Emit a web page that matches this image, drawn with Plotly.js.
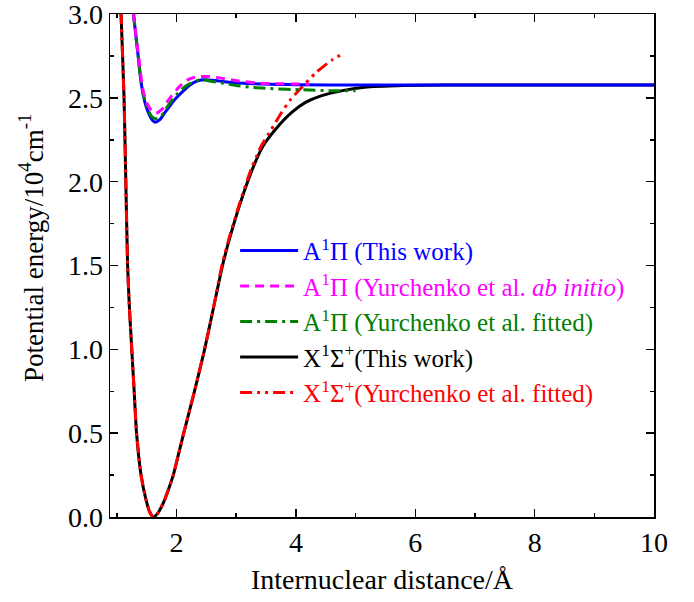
<!DOCTYPE html>
<html>
<head>
<meta charset="utf-8">
<script src="https://cdn.plot.ly/plotly-3.0.1.min.js"></script>
<style>html,body{margin:0;padding:0;background:#fff;}#chart{width:694px;height:602px;}</style>
</head>
<body>
<div id="chart"></div>
<script>
// ---- Data (x in Å, y in 10^4 cm^-1) ----
const aThisX = [1.20, 1.28, 1.36, 1.40, 1.44, 1.48, 1.52, 1.58, 1.64, 1.72, 1.80, 1.89, 1.97, 2.11, 2.22, 2.33, 2.45, 2.60, 2.80, 3.00, 3.28, 3.56, 4.06, 5.00, 6.00, 8.00, 10.0];
const aThisY = [3.45, 3.00, 2.74, 2.61, 2.52, 2.46, 2.42, 2.375, 2.355, 2.37, 2.41, 2.453, 2.49, 2.54, 2.575, 2.598, 2.608, 2.605, 2.597, 2.590, 2.585, 2.582, 2.578, 2.577, 2.577, 2.577, 2.577];

const aAbX = [1.20, 1.28, 1.36, 1.43, 1.50, 1.58, 1.66, 1.75, 1.89, 2.06, 2.20, 2.35, 2.53, 2.75, 3.00, 3.39, 3.70, 4.12, 4.23];
const aAbY = [3.45, 3.00, 2.76, 2.56, 2.47, 2.425, 2.41, 2.43, 2.50, 2.572, 2.61, 2.626, 2.628, 2.618, 2.603, 2.588, 2.585, 2.582, 2.581];

const aFitX = [1.20, 1.28, 1.36, 1.40, 1.44, 1.48, 1.52, 1.58, 1.65, 1.74, 1.85, 2.00, 2.15, 2.39, 2.60, 2.84, 3.00, 3.28, 3.56, 4.12, 4.57, 5.00];
const aFitY = [3.45, 3.00, 2.74, 2.61, 2.53, 2.47, 2.43, 2.39, 2.375, 2.39, 2.45, 2.52, 2.57, 2.608, 2.598, 2.584, 2.574, 2.562, 2.556, 2.548, 2.543, 2.543];

const xThisX = [1.00, 1.07, 1.12, 1.15, 1.18, 1.21, 1.25, 1.29, 1.33, 1.405, 1.49, 1.55, 1.61, 1.68, 1.78, 1.86, 1.945, 2.03, 2.12, 2.30, 2.47, 2.62, 2.77, 2.90, 3.07, 3.27, 3.45, 3.66, 3.93, 4.16, 4.42, 4.80, 5.15, 5.80, 6.50, 8.00, 10.0];
const xThisY = [3.60, 3.00, 2.50, 2.00, 1.50, 1.25, 1.00, 0.75, 0.50, 0.25, 0.10, 0.03, 0.00, 0.02, 0.085, 0.16, 0.25, 0.37, 0.50, 0.75, 1.00, 1.25, 1.50, 1.675, 1.875, 2.074, 2.213, 2.313, 2.413, 2.473, 2.512, 2.545, 2.564, 2.574, 2.577, 2.577, 2.577];

const xFitX = [1.00, 1.07, 1.12, 1.15, 1.18, 1.21, 1.25, 1.29, 1.33, 1.405, 1.49, 1.55, 1.61, 1.68, 1.78, 1.86, 1.945, 2.03, 2.12, 2.30, 2.47, 2.62, 2.76, 2.89, 3.06, 3.25, 3.42, 3.59, 3.76, 3.91, 4.09, 4.34, 4.60, 4.82];
const xFitY = [3.60, 3.00, 2.50, 2.00, 1.50, 1.25, 1.00, 0.75, 0.50, 0.25, 0.10, 0.03, 0.00, 0.02, 0.085, 0.16, 0.25, 0.37, 0.50, 0.75, 1.00, 1.25, 1.50, 1.675, 1.875, 2.074, 2.213, 2.313, 2.413, 2.49, 2.56, 2.652, 2.725, 2.77];

const seriesNames = [
  '<span style="color:#0000ff">A<sup>1</sup>Π (This work)</span>',
  '<span style="color:#ff00ff">A<sup>1</sup>Π (Yurchenko et al. <i>ab initio</i>)</span>',
  '<span style="color:#008000">A<sup>1</sup>Π (Yurchenko et al. fitted)</span>',
  '<span style="color:#000000">X<sup>1</sup>Σ<sup>+</sup>(This work)</span>',
  '<span style="color:#ff0000">X<sup>1</sup>Σ<sup>+</sup>(Yurchenko et al. fitted)</span>'
];
const xTitle = 'Internuclear distance/Å';
const yTitle = 'Potential energy/10<sup>4</sup>cm<sup>-1</sup>';
const xTickVals = [2, 4, 6, 8, 10];
const yTickVals = [0.0, 0.5, 1.0, 1.5, 2.0, 2.5, 3.0];
const yTickText = ['0.0', '0.5', '1.0', '1.5', '2.0', '2.5', '3.0'];

const FONT = 'Liberation Serif, Times New Roman, serif';
const mk = (x, y, name, color, dash, group, rank) => ({
  x, y, name, type: 'scatter', mode: 'lines', legendgroup: group, legendrank: rank,
  line: {color, width: 3, dash, shape: 'spline', smoothing: 0.6}
});
const traces = [
  mk(xThisX, xThisY, seriesNames[3], '#000000', 'solid', 'g4', 4),
  mk(xFitX, xFitY, seriesNames[4], '#ff0000', '12px,5px,3px,5px,3px,5px', 'g5', 5),
  mk(aThisX, aThisY, seriesNames[0], '#0000ff', 'solid', 'g1', 1),
  mk(aFitX, aFitY, seriesNames[2], '#008000', '12px,5px,3px,5px', 'g3', 3),
  mk(aAbX, aAbY, seriesNames[1], '#ff00ff', '9px,6px', 'g2', 2)
];

const axisCommon = {
  showline: true, linecolor: '#000', linewidth: 1.5, mirror: 'allticks',
  ticks: 'inside', ticklen: 8, tickwidth: 1.5, tickcolor: '#000',
  showgrid: false, zeroline: false, ticklabeloverflow: 'allow',
  tickfont: {family: FONT, size: 28, color: '#000'}
};
const layout = {
  width: 694, height: 602,
  margin: {l: 110, r: 40, t: 14, b: 85},
  paper_bgcolor: '#fff', plot_bgcolor: '#fff',
  font: {family: FONT, color: '#000'},
  showlegend: true,
  legend: {
    x: 0.23, y: 0.575, xanchor: 'left', yanchor: 'top',
    bgcolor: 'rgba(0,0,0,0)', borderwidth: 0,
    font: {family: FONT, size: 25}, tracegroupgap: 9, itemwidth: 58,
    traceorder: 'normal'
  },
  xaxis: Object.assign({}, axisCommon, {
    range: [0.885, 10], tickvals: xTickVals,
    minor: {dtick: 1, tick0: 1, ticks: 'inside', ticklen: 4, tickwidth: 1.5, tickcolor: '#000'},
    title: {text: xTitle, font: {family: FONT, size: 28, color: '#000'}, standoff: 12}
  }),
  yaxis: Object.assign({}, axisCommon, {
    range: [0, 3.0005], tickvals: yTickVals, ticktext: yTickText,
    minor: {dtick: 0.25, tick0: 0, ticks: 'inside', ticklen: 4, tickwidth: 1.5, tickcolor: '#000'}
  }),
  annotations: [{
    text: yTitle, xref: 'paper', yref: 'paper', x: -0.145, y: 0.535,
    xanchor: 'center', yanchor: 'middle', textangle: -90, showarrow: false,
    font: {family: FONT, size: 27, color: '#000'}
  }]
};
Plotly.newPlot('chart', traces, layout, {displayModeBar: false, staticPlot: true});
</script>
</body>
</html>
